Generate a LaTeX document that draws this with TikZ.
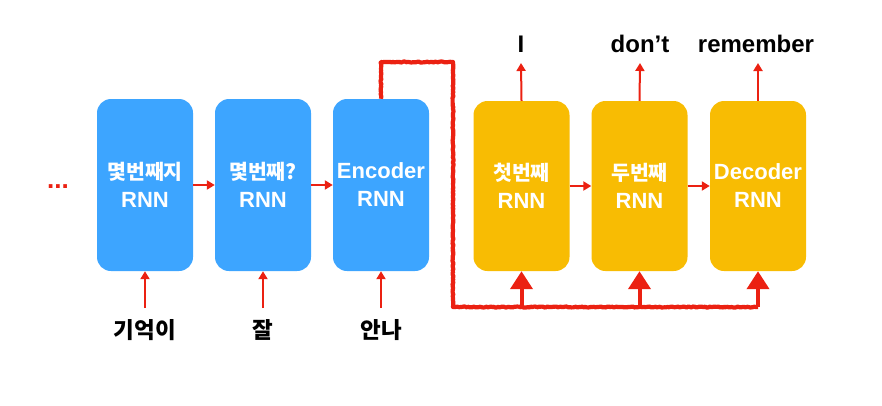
\documentclass[tikz,border=0pt]{standalone}
\usepackage{fontspec}
\setmainfont{Liberation Sans}
\newfontfamily\kr{Noto Sans CJK KR}
\usetikzlibrary{arrows.meta,decorations.pathmorphing}
\definecolor{rnnblue}{RGB}{61,165,255}
\definecolor{rnnyellow}{RGB}{248,188,3}
\definecolor{arrred}{RGB}{235,33,18}
\begin{document}
\begin{tikzpicture}[x=1pt,y=-1pt,
  box/.style={rounded corners=14pt, minimum width=96pt, text=white, align=center, inner sep=0pt,
    font=\bfseries\fontsize{22}{28}\selectfont},
  bluebox/.style={box, fill=rnnblue, minimum height=172pt},
  yellowbox/.style={box, fill=rnnyellow, minimum height=170pt},
  kbox/.style={font=\kr\bfseries\fontsize{20.5}{28}\selectfont},
  sarrow/.style={draw=arrred, line width=2pt, -{Triangle[width=9pt,length=8pt]}},
  loopline/.style={draw=arrred, line width=4.2pt, line join=round, decorate,
    decoration={random steps, segment length=1.5pt, amplitude=0.5pt}},
  bigarrow/.style={draw=arrred, line width=4pt, -{Triangle[width=22pt,length=18pt]}},
  lbl/.style={font=\bfseries\fontsize{24}{26}\selectfont, text=black, inner sep=0pt},
  krl/.style={font=\kr\bfseries\fontsize{22.5}{26}\selectfont, text=black, inner sep=0pt},
]
\useasboundingbox (0,0) rectangle (882,405);

% encoder boxes
\node[bluebox] (e1) at (145,185) {{\kr\fontsize{20.5}{28}\selectfont 몇번째지}\\RNN};
\node[bluebox] (e2) at (263,185) {{\kr\fontsize{20.5}{28}\selectfont 몇번째?}\\RNN};
\node[bluebox] (e3) at (381,185) {Encoder\\RNN};
% decoder boxes
\node[yellowbox] (d1) at (521.5,186) {{\kr\fontsize{20.5}{28}\selectfont 첫번째}\\RNN};
\node[yellowbox] (d2) at (639.5,186) {{\kr\fontsize{20.5}{28}\selectfont 두번째}\\RNN};
\node[yellowbox] (d3) at (758,186) {Decoder\\RNN};

% dots
\node[font=\bfseries\fontsize{26}{28}\selectfont, text=arrred, anchor=base, inner sep=0pt] (dots) at (58,188) {...};

% horizontal arrows
\draw[sarrow] (e1.east) -- (e2.west);
\draw[sarrow] (e2.east) -- (e3.west);
\draw[sarrow] (d1.east) -- (d2.west);
\draw[sarrow] (d2.east) -- (d3.west);

% inputs
\node[krl] (x1) at (145,330) {기억이};
\node[krl] (x2) at (263,330) {잘};
\node[krl] (x3) at (381,330) {안나};
\coordinate (i1) at (145,308);
\coordinate (i2) at (263,308);
\coordinate (i3) at (381,308);
\draw[sarrow] (i1) -- (e1.south);
\draw[sarrow] (i2) -- (e2.south);
\draw[sarrow] (i3) -- (e3.south);

% outputs
\node[lbl] (y1) at (521,44) {I};
\node[lbl] (y2) at (640,44) {don’t};
\node[lbl] (y3) at (756,44) {remember};
\coordinate (o1) at (521,63);
\coordinate (o2) at (640,63);
\coordinate (o3) at (758,63);
\draw[sarrow] (d1.north) -- (o1);
\draw[sarrow] (d2.north) -- (o2);
\draw[sarrow] (d3.north) -- (o3);

% context loop
\coordinate (top) at (453,62);
\coordinate (b1) at (521.5,307);
\coordinate (b2) at (639.5,307);
\coordinate (b3) at (758,307);
\draw[loopline] (e3.north) |- (top) |- (b3);
\draw[bigarrow] (b1) -- (d1.south);
\draw[bigarrow] (b2) -- (d2.south);
\draw[bigarrow] (b3) -- (d3.south);
\end{tikzpicture}
\end{document}
